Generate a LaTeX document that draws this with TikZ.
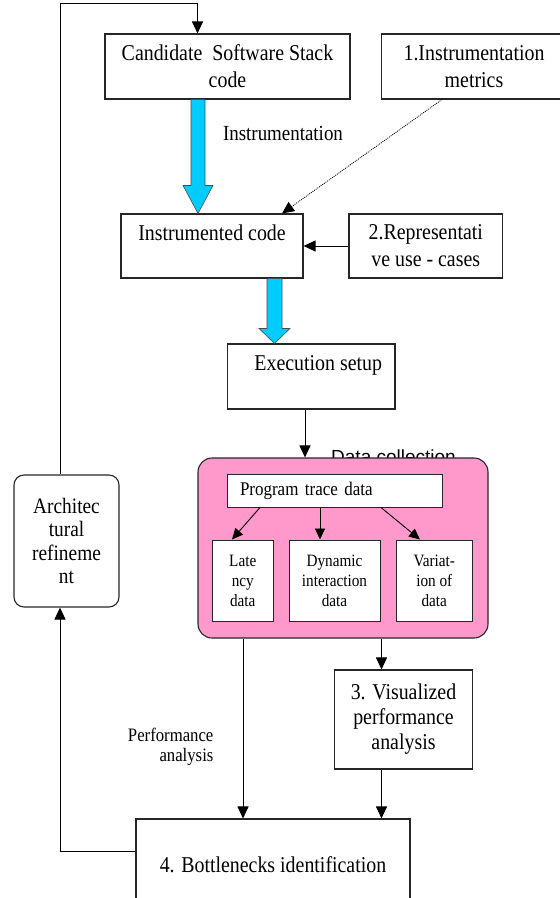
\documentclass[tikz,border=0pt]{standalone}
\usepackage{fontspec}
\setmainfont[FakeStretch=0.88]{Liberation Serif}
\newfontfamily\dcfont{Liberation Sans}
\usetikzlibrary{arrows.meta,calc}
\definecolor{pinkfill}{RGB}{255,153,204}
\definecolor{bluefill}{RGB}{0,204,255}
\begin{document}
\begin{tikzpicture}[x=1pt,y=-1pt,
  box/.style={draw=black!85,line width=1.1pt,fill=white,align=center,inner sep=2pt,font=\rmfamily\fontsize{22.6}{27}\selectfont},
  rbox/.style={box,rounded corners=10pt},
  sub/.style={box,line width=1pt,font=\rmfamily\fontsize{17.3}{20}\selectfont},
  conn/.style={line width=1pt,-{Triangle[width=11pt,length=12pt]}},
  sconn/.style={line width=0.9pt,-{Triangle[width=10pt,length=11pt]}},
  bluearr/.style={fill=bluefill,draw=black!70,line width=0.6pt},
  lbl/.style={inner sep=0pt,align=center}]
\useasboundingbox (0,0) rectangle (560,898);

% boxes
\node[box,minimum width=245pt,minimum height=65pt] (cand) at (227.5,66.5) {Candidate\ \ Software Stack\\code};
\node[box,minimum width=184.6pt,minimum height=65pt] (metrics) at (474,66.5) {1.Instrumentation\\metrics};
\node[box,minimum width=182pt,minimum height=64pt] (instr) at (212,246) {Instrumented code\\\mbox{}};
\node[box,minimum width=153.5pt,minimum height=64pt] (rep) at (425.75,246) {2.Representati\\ve use - cases};
\node[box,minimum width=167.5pt,minimum height=65pt] (exec) at (311.25,376.5) {\hspace*{14pt}Execution setup\\\mbox{}};

% data collection label (partly hidden by the pink box)
\node[anchor=base west,inner sep=0pt,font=\dcfont\fontsize{19}{22}\selectfont] (dc) at (331,463.5) {Data collection};

\node[draw=black!85,line width=1.1pt,fill=pinkfill,rounded corners=14pt,minimum width=290pt,minimum height=180pt] (pink) at (343,548) {};
\node[box,line width=1pt,text width=189.5pt,align=left,inner xsep=12.5pt,inner ysep=0pt,minimum height=33pt,font=\rmfamily\fontsize{19.3}{22}\selectfont] (trace) at (334.75,490.5) {Program trace data};
\node[sub,minimum width=60.5pt,minimum height=81pt] (lat) at (242.75,580.5) {Late\\ncy\\data};
\node[sub,minimum width=91pt,minimum height=81pt] (dyn) at (334.5,580.5) {Dynamic\\interaction\\data};
\node[sub,minimum width=76.5pt,minimum height=81pt] (var) at (434.25,580.5) {Variat-\\ion of\\data};

\node[rbox,minimum width=105pt,minimum height=132pt,font=\rmfamily\fontsize{22}{23.5}\selectfont] (arch) at (66.5,541) {Architec\\tural\\refineme\\nt};
\node[box,minimum width=138pt,minimum height=99pt,font=\rmfamily\fontsize{22.6}{25}\selectfont] (vis) at (403.5,719.5) {3. Visualized\\performance\\analysis};
\node[box,minimum width=274pt,minimum height=92pt] (bott) at (273,865) {4. Bottlenecks identification};

% labels
\node[lbl,font=\rmfamily\fontsize{21.5}{25}\selectfont] (instlbl) at (283,133) {Instrumentation};
\node[lbl,anchor=east,align=right,font=\rmfamily\fontsize{19}{20}\selectfont] (perflbl) at (213.6,747) {Performance\\analysis};

% helper coordinates
\coordinate (fbx) at (60,3);
\coordinate (fbr) at (197.5,3);
\coordinate (lb) at (60,851);
\coordinate (d1) at (442,0);
\coordinate (d2) at (282,0);
\coordinate (ex) at (305,0);
\coordinate (t1) at (260,0);
\coordinate (l1) at (232,0);
\coordinate (t2) at (320,0);
\coordinate (t3) at (381,0);
\coordinate (v3) at (420,0);
\coordinate (pa) at (243,0);
\coordinate (pb) at (381.5,0);
\coordinate (b1) at (198,0);
\coordinate (b2) at (274.5,0);

% feedback loop
\draw[conn] (fbx |- arch.north) -- (fbx) -- (fbr) -- (fbr |- cand.north);
\draw[conn] (lb -| bott.west) -- (lb) -- (lb |- arch.south);

% other connectors
\draw[conn,densely dotted,line width=0.8pt] (d1 |- metrics.south) -- (d2 |- instr.north);
\draw[conn] (rep.west) -- (instr.east);
\draw[conn] (ex |- exec.south) -- (ex |- pink.north);
\draw[sconn] (t1 |- trace.south) -- (l1 |- lat.north);
\draw[sconn] (t2 |- trace.south) -- (t2 |- dyn.north);
\draw[sconn] (t3 |- trace.south) -- (v3 |- var.north);
\draw[conn] (pa |- pink.south) -- (pa |- bott.north);
\draw[conn] (pb |- pink.south) -- (pb |- vis.north);
\draw[conn] (pb |- vis.south) -- (pb |- bott.north);

% blue block arrows
\filldraw[bluearr] ($(b1 |- cand.south)+(-7,0)$) -- ($(b1 |- cand.south)+(7,0)$)
  -- ($(b1 |- instr.north)+(7,-28)$) -- ($(b1 |- instr.north)+(15,-28)$)
  -- (b1 |- instr.north) -- ($(b1 |- instr.north)+(-15,-28)$)
  -- ($(b1 |- instr.north)+(-7,-28)$) -- cycle;
\filldraw[bluearr] ($(b2 |- instr.south)+(-7.5,0)$) -- ($(b2 |- instr.south)+(7.5,0)$)
  -- ($(b2 |- exec.north)+(7.5,-15)$) -- ($(b2 |- exec.north)+(15.5,-15)$)
  -- (b2 |- exec.north) -- ($(b2 |- exec.north)+(-15.5,-15)$)
  -- ($(b2 |- exec.north)+(-7.5,-15)$) -- cycle;
\end{tikzpicture}
\end{document}
